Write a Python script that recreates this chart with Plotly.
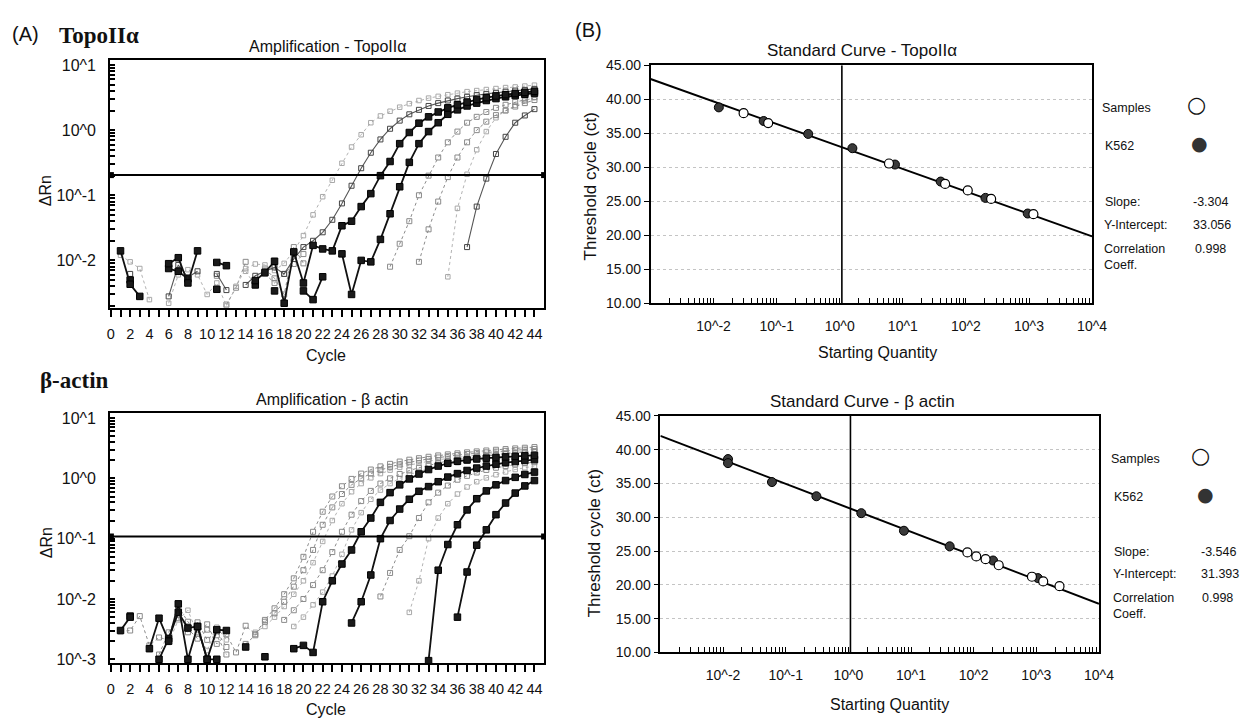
import math
import plotly.graph_objects as go

N = None
W, H = 1249, 725

# ---------------- data: amplification plots ----------------
cycles = list(range(45))
topo_threshold = 0.204
actin_threshold = 0.109

topo_1 = [N, 0.012, 0.0095, 0.0075, 0.0025, N, 0.0022, 0.006, 0.0072, 0.006,
          0.003, 0.0045, 0.002, 0.004, 0.0075, 0.0088, 0.0085, 0.007, 0.009, 0.014,
          0.024, 0.05, 0.095, 0.17, 0.31, 0.55, 0.85, 1.3, 1.65, 1.95,
          2.25, 2.55, 2.85, 3.1, 3.3, 3.5, 3.7, 3.9, 4.05, 4.2,
          4.35, 4.5, 4.6, 4.75, 4.9]
topo_2 = [N, N, 0.0062, N, N, N, 0.0028, 0.0085, 0.0055, 0.0068,
          N, 0.0062, 0.0035, N, 0.0042, 0.0058, 0.0068, 0.0078, 0.0062, 0.0105,
          0.016, 0.02, 0.027, 0.042, 0.075, 0.14, 0.26, 0.45, 0.72, 1.05,
          1.4, 1.75, 2.05, 2.35, 2.6, 2.85, 3.05, 3.25, 3.45, 3.6,
          3.75, 3.9, 4.05, 4.15, 4.3]
topo_3 = [N, 0.014, 0.0043, 0.0028, N, N, 0.0089, 0.011, 0.0045, 0.014,
          N, 0.0093, 0.0083, N, N, 0.0049, 0.0065, 0.0097, 0.0022, 0.0135,
          0.0045, 0.017, 0.015, 0.014, 0.034, 0.04, 0.067, 0.106, 0.2, 0.33,
          0.62, 0.92, 1.28, 1.6, 1.9, 2.2, 2.45, 2.7, 2.95, 3.15,
          3.35, 3.5, 3.65, 3.8, 3.95]
topo_4 = [N, N, 0.005, N, N, N, 0.0075, 0.0068, 0.0052, N,
          N, 0.0036, N, N, N, 0.0042, N, 0.0034, N, N,
          0.0034, 0.0025, 0.0056, N, 0.0126, 0.003, 0.01, 0.0095, 0.021, 0.052,
          0.135, 0.32, 0.62, 0.95, 1.3, 1.75, 2.05, 2.35, 2.6, 2.85,
          3.05, 3.25, 3.4, 3.55, 3.7]
topo_5 = [N, N, N, N, N, N, N, N, N, N,
          N, N, 0.0021, 0.0038, 0.0095, N, 0.0075, 0.0053, 0.003, 0.016,
          0.009, N, N, N, N, N, N, N, N, 0.008,
          0.018, 0.04, 0.1, 0.2, 0.38, 0.65, 0.95, 1.3, 1.6, 1.9,
          2.2, 2.45, 2.7, 2.95, 3.2]
topo_6 = [N, N, N, N, N, N, N, N, N, N,
          N, 0.0058, N, N, N, N, 0.0062, 0.0045, 0.0062, 0.0088,
          0.0125, N, N, N, N, N, N, N, N, N,
          N, N, 0.0095, 0.03, 0.08, 0.19, 0.38, 0.65, 1.0, 1.35,
          1.7, 2.0, 2.3, 2.6, 2.9]
topo_7 = [N] * 14 + [0.0068, 0.0041] + [N] * 19 + \
         [0.0056, 0.063, 0.21, 0.5, 0.95, 1.55, 2.0, 2.4, 2.8, 3.2]
topo_8 = [N] * 37 + [0.016, 0.067, 0.18, 0.43, 0.79, 1.3, 1.68, 2.1]

actin_1 = [N, 0.0029, 0.003, 0.0052, 0.0017, 0.0023, 0.0021, 0.0075, 0.0042, 0.0028,
           0.0038, 0.0018, 0.0026, 0.0013, 0.0036, 0.0026, 0.0045, 0.007, 0.012, 0.022,
           0.05, 0.13, 0.28, 0.5, 0.74, 0.98, 1.2, 1.4, 1.58, 1.74,
           1.9, 2.04, 2.16, 2.28, 2.4, 2.5, 2.6, 2.7, 2.8, 2.9,
           2.98, 3.06, 3.14, 3.22, 3.3]
actin_2 = [N, N, N, N, N, 0.0012, 0.0028, 0.0055, 0.0032, 0.0022,
           0.0031, 0.0025, 0.0012, N, 0.0018, 0.0025, 0.0042, 0.0058, 0.009, 0.016,
           0.03, 0.065, 0.17, 0.33, 0.55, 0.78, 1.0, 1.2, 1.38, 1.55,
           1.7, 1.85, 1.98, 2.1, 2.22, 2.33, 2.43, 2.53, 2.62, 2.7,
           2.78, 2.86, 2.93, 3.0, 3.07]
actin_3 = [N, N, N, N, N, N, 0.0019, 0.0045, 0.0065, 0.0026,
           0.0014, 0.0034, 0.0021, N, N, 0.0028, 0.0035, 0.005, 0.0075, 0.012,
           0.02, 0.04, 0.09, 0.2, 0.38, 0.6, 0.82, 1.02, 1.2, 1.37,
           1.52, 1.66, 1.8, 1.92, 2.04, 2.14, 2.24, 2.34, 2.42, 2.5,
           2.58, 2.65, 2.72, 2.79, 2.85]
actin_4 = [N, N, N, N, N, N, N, 0.0048, 0.0035, N,
           N, N, N, N, N, N, N, N, 0.0045, 0.0065,
           0.01, 0.017, 0.03, 0.06, 0.13, 0.25, 0.42, 0.62, 0.82, 1.0,
           1.18, 1.35, 1.5, 1.65, 1.8, 1.95, 2.05, 2.15, 2.25, 2.35,
           2.45, 2.55, 2.65, 2.72, 2.8]
actin_5 = [N] * 19 + [0.0035, 0.005, 0.008, 0.013, 0.024, 0.055, 0.14, 0.27, 0.45, 0.64,
                      0.82, 1.0, 1.16, 1.3, 1.44, 1.57, 1.7, 1.82, 1.92, 2.02,
                      2.12, 2.2, 2.28, 2.36, 2.43, 2.5]
actin_6 = [N, 0.003, 0.005, N, 0.0015, 0.0048, 0.002, 0.0083, 0.001, 0.0035,
           0.001, 0.0031, 0.003, N, 0.0016, N, 0.0011, N, N, 0.0015,
           0.0017, 0.0013, 0.009, 0.02, 0.038, 0.065, 0.13, 0.22, 0.4, 0.58,
           0.78, 0.98, 1.18, 1.4, 1.6, 1.78, 1.92, 2.02, 2.1, 2.16,
           2.22, 2.27, 2.32, 2.36, 2.4]
actin_7 = [N, N, 0.0052, N, N, 0.001, 0.0022, 0.006, 0.0033, 0.0035,
           0.001, 0.001, N, N, N, N, N, N, N, N,
           N, N, N, N, N, 0.004, 0.009, 0.025, 0.1, 0.2,
           0.31, 0.45, 0.61, 0.73, 0.88, 1.05, 1.2, 1.35, 1.48, 1.6,
           1.72, 1.82, 1.9, 1.98, 2.05]
actin_8 = [N] * 8 + [0.0028, 0.0041, 0.0021, 0.0029, 0.0016] + [N] * 15 + \
          [0.011, 0.027, 0.065, 0.11, 0.22, 0.4, 0.58, 0.76, 0.95, 1.1,
           1.25, 1.38, 1.5, 1.6, 1.7, 1.78, 1.85]
actin_9 = [N] * 31 + [0.006, 0.02, 0.1, 0.22, 0.38, 0.55, 0.72, 0.88, 1.02, 1.15,
                      1.28, 1.4, 1.5, 1.6]
actin_10 = [N] * 33 + [0.00095, 0.03, 0.08, 0.17, 0.3, 0.46, 0.62, 0.78, 0.92, 1.04,
                       1.16, 1.27]
actin_11 = [N] * 36 + [0.005, 0.028, 0.078, 0.14, 0.25, 0.39, 0.57, 0.75, 0.92]

topo_series = [topo_7, topo_6, topo_5, topo_1, topo_2, topo_8, topo_4, topo_3]
topo_styles = ["light", "gray", "gray", "light", "dark", "dark", "black", "black"]
actin_series = [actin_3, actin_5, actin_9, actin_8, actin_2, actin_1, actin_4,
                actin_11, actin_10, actin_7, actin_6]
actin_styles = ["light", "light", "light", "gray", "gray", "gray", "gray",
                "black", "black", "black", "black"]

# ---------------- data: standard curves ----------------
topo_slope, topo_intercept, topo_corr = -3.304, 33.056, 0.998
actin_slope, actin_intercept, actin_corr = -3.546, 31.393, 0.998

topo_k562_qty = [0.0121, 0.0622, 0.316, 1.585, 7.50, 39.8, 204, 955]
topo_k562_ct = [38.8, 36.8, 34.9, 32.8, 30.4, 27.9, 25.5, 23.2]
topo_sample_qty = [0.0299, 0.0733, 6.03, 46.8, 107, 251, 1175]
topo_sample_ct = [37.95, 36.5, 30.55, 27.55, 26.6, 25.35, 23.1]

actin_k562_qty = [0.0120, 0.0120, 0.0603, 0.309, 1.61, 7.71, 41.4, 204, 1059]
actin_k562_ct = [38.6, 38.0, 35.2, 33.1, 30.6, 28.0, 25.7, 23.6, 21.0]
actin_sample_qty = [79.4, 110, 155, 251, 851, 1288, 2344]
actin_sample_ct = [24.8, 24.2, 23.8, 22.9, 21.2, 20.5, 19.8]

ref_quantity = 1.08          # vertical reference line
qty_span = [0.001, 10000]

# ---------------- styling ----------------
FONT = "Liberation Sans, Arial, sans-serif"
SERIF = "Liberation Serif, Times New Roman, serif"

STY = {
    "black": dict(line=dict(color="#111111", width=1.8),
                  marker=dict(symbol="square", size=6.5, color="#1a1a1a",
                              line=dict(color="#000", width=1))),
    "dark": dict(line=dict(color="#555555", width=1.1),
                 marker=dict(symbol="square-open", size=5, color="#444444",
                             line=dict(width=1))),
    "gray": dict(line=dict(color="#8c8c8c", width=1, dash="dot"),
                 marker=dict(symbol="square-open", size=5, color="#8a8a8a",
                             line=dict(width=1))),
    "light": dict(line=dict(color="#b3b3b3", width=1, dash="dot"),
                  marker=dict(symbol="square-open", size=4.5, color="#a8a8a8",
                              line=dict(width=1))),
}


def dom_x(a, b):
    return [a / W, b / W]


def dom_y(top, bottom):
    return [1 - bottom / H, 1 - top / H]


fig = go.Figure()

# amplification traces
for series, sty, ax in ([(s, st, ("x", "y")) for s, st in zip(topo_series, topo_styles)] +
                        [(s, st, ("x2", "y2")) for s, st in zip(actin_series, actin_styles)]):
    fig.add_trace(go.Scatter(x=cycles, y=series, mode="lines+markers",
                             xaxis=ax[0], yaxis=ax[1], connectgaps=False,
                             showlegend=False, hoverinfo="skip", **STY[sty]))

for thr, ax in ((topo_threshold, ("x", "y")), (actin_threshold, ("x2", "y2"))):
    fig.add_trace(go.Scatter(x=[cycles[0], 45], y=[thr, thr], mode="lines+markers",
                             line=dict(color="#000", width=2),
                             marker=dict(symbol="square", size=6, color="#000"),
                             xaxis=ax[0], yaxis=ax[1], showlegend=False, hoverinfo="skip"))

# standard curves
for slope, icpt, kq, kc, sq, sc, ax in (
        (topo_slope, topo_intercept, topo_k562_qty, topo_k562_ct,
         topo_sample_qty, topo_sample_ct, ("x3", "y3")),
        (actin_slope, actin_intercept, actin_k562_qty, actin_k562_ct,
         actin_sample_qty, actin_sample_ct, ("x4", "y4"))):
    fig.add_trace(go.Scatter(x=qty_span, y=[icpt + slope * math.log10(q) for q in qty_span],
                             mode="lines", line=dict(color="#000", width=2),
                             xaxis=ax[0], yaxis=ax[1], showlegend=False, hoverinfo="skip"))
    fig.add_trace(go.Scatter(x=[ref_quantity, ref_quantity], y=[10, 45], mode="lines",
                             line=dict(color="#000", width=1.6),
                             xaxis=ax[0], yaxis=ax[1], showlegend=False, hoverinfo="skip"))
    fig.add_trace(go.Scatter(x=kq, y=kc, mode="markers",
                             marker=dict(symbol="circle", size=9, color="#3a3a3a",
                                         line=dict(color="#000", width=1)),
                             xaxis=ax[0], yaxis=ax[1], showlegend=False, hoverinfo="skip"))
    fig.add_trace(go.Scatter(x=sq, y=sc, mode="markers",
                             marker=dict(symbol="circle", size=9, color="#ffffff",
                                         line=dict(color="#000", width=1.2)),
                             xaxis=ax[0], yaxis=ax[1], showlegend=False, hoverinfo="skip"))

# ---------------- axes ----------------
amp_xticks = cycles
amp_xtext = [str(c) if c % 2 == 0 else "" for c in cycles]
amp_yticks = [k * 10.0 ** e for e in range(-3, 2) for k in range(1, 10)]
amp_ytext = [("10^%d" % e) if k == 1 else "" for e in range(-3, 2) for k in range(1, 10)]
std_xticks = [k * 10.0 ** e for e in range(-3, 4) for k in range(1, 10)] + [1e4]
std_xtext = [("10^%d" % e) if (k == 1 and e >= -2) else ""
             for e in range(-3, 4) for k in range(1, 10)] + ["10^4"]

base_axis = dict(showline=True, linecolor="#000", linewidth=1.5, mirror=True,
                 zeroline=False, showgrid=False, tickcolor="#000",
                 tickfont=dict(family=FONT, size=14, color="#111"))

amp_x = dict(base_axis, range=[-0.1, 45], tickmode="array", tickvals=amp_xticks,
             ticktext=amp_xtext, ticks="outside", ticklen=7, tickwidth=1.5,
             ticklabelstandoff=5, tickfont=dict(family=FONT, size=14.5, color="#111"))
amp_y_common = dict(base_axis, type="log", tickmode="array", tickvals=amp_yticks,
                    ticktext=amp_ytext, ticks="inside", ticklen=5, tickwidth=1.5,
                    ticklabelstandoff=9, tickfont=dict(family=FONT, size=16, color="#111"))
std_x = dict(base_axis, type="log", range=[-3, 4], tickmode="array", tickvals=std_xticks,
             ticktext=std_xtext, ticks="inside", ticklen=6, tickwidth=1,
             ticklabelstandoff=9)
std_y = dict(base_axis, range=[10, 45], dtick=5, tickformat=".2f", ticks="outside",
             ticklen=5, tickwidth=1, showgrid=True, gridcolor="#c4c4c4", griddash="dot",
             gridwidth=1)

fig.update_layout(
    xaxis=dict(amp_x, domain=dom_x(108.5, 549), anchor="y"),
    yaxis=dict(amp_y_common, range=[-2.73, 1.075], domain=dom_y(53.3, 306.7), anchor="x"),
    xaxis2=dict(amp_x, domain=dom_x(108.5, 549), anchor="y2"),
    yaxis2=dict(amp_y_common, range=[-3.065, 1.086], domain=dom_y(414, 670), anchor="x2"),
    xaxis3=dict(std_x, domain=dom_x(657, 1105), anchor="y3"),
    yaxis3=dict(std_y, domain=dom_y(58.5, 302), anchor="x3"),
    xaxis4=dict(std_x, domain=dom_x(667, 1112), anchor="y4"),
    yaxis4=dict(std_y, domain=dom_y(417, 659), anchor="x4"),
)

# ---------------- text ----------------
anns = []


def ann(text, px, py, size, family=FONT, xanchor="center", angle=0, color="#111"):
    anns.append(dict(text=text, x=px / W, y=1 - py / H, xref="paper", yref="paper",
                     xanchor=xanchor, yanchor="middle", showarrow=False, textangle=angle,
                     font=dict(family=family, size=size, color=color)))


ann("(A)", 23, 27, 20)
ann("<b>TopoIIα</b>", 97, 28, 23, family=SERIF)
ann("(B)", 594, 22, 20)
ann("<b>β-actin</b>", 73, 381, 23, family=SERIF)

ann("Amplification - TopoIIα", 329, 39, 16)
ann("Amplification - β actin", 334, 400, 16)
ann("Cycle", 328, 355, 16)
ann("Cycle", 328, 717, 16)
ann("ΔRn", 43, 187, 16, angle=-90)
ann("ΔRn", 45, 547, 16, angle=-90)

ann("Standard Curve - TopoIIα", 872, 43, 17)
ann("Standard Curve - β actin", 872, 402, 17)
ann("Starting Quantity", 887, 352, 16)
ann("Starting Quantity", 899, 712, 16)
ann("Threshold cycle (ct)", 597, 182, 17, angle=-90)
ann("Threshold cycle (ct)", 601, 547, 17, angle=-90)

# legends / statistics
for (x0, xv, ys, ysym, xsym, slope, icpt, corr) in (
        (1113, 1205, (102, 141, 198, 222, 246, 263), (99, 138), (1211, 1214),
         topo_slope, topo_intercept, topo_corr),
        (1122, 1213, (461, 500, 556, 579, 603, 620), (458, 497), (1215, 1220),
         actin_slope, actin_intercept, actin_corr)):
    ann("Samples", x0, ys[0], 12.5, xanchor="left")
    ann("K562", x0 + 3, ys[1], 12.5, xanchor="left")
    ann("Slope:", x0 + 3, ys[2], 12.5, xanchor="left")
    ann("Y-Intercept:", x0 + 2, ys[3], 12.5, xanchor="left")
    ann("Correlation", x0 + 2, ys[4], 12.5, xanchor="left")
    ann("Coeff.", x0 + 2, ys[5], 12.5, xanchor="left")
    ann("%.3f" % slope, xv, ys[2], 12.5, xanchor="left")
    ann("%.3f" % icpt, xv, ys[3], 12.5, xanchor="left")
    ann("%.3f" % corr, xv + 2, ys[4], 12.5, xanchor="left")
    ann("○", xsym[0], ysym[0], 22, family="DejaVu Sans")
    ann("●", xsym[1], ysym[1], 19, family="DejaVu Sans", color="#333")

fig.update_layout(
    width=W, height=H, autosize=False,
    margin=dict(l=0, r=0, t=0, b=0),
    paper_bgcolor="#ffffff", plot_bgcolor="#ffffff",
    annotations=anns, showlegend=False,
    font=dict(family=FONT, color="#111"),
)

fig.write_html("out.html", config={"displayModeBar": False},
               post_script="document.body.style.margin='0';")
